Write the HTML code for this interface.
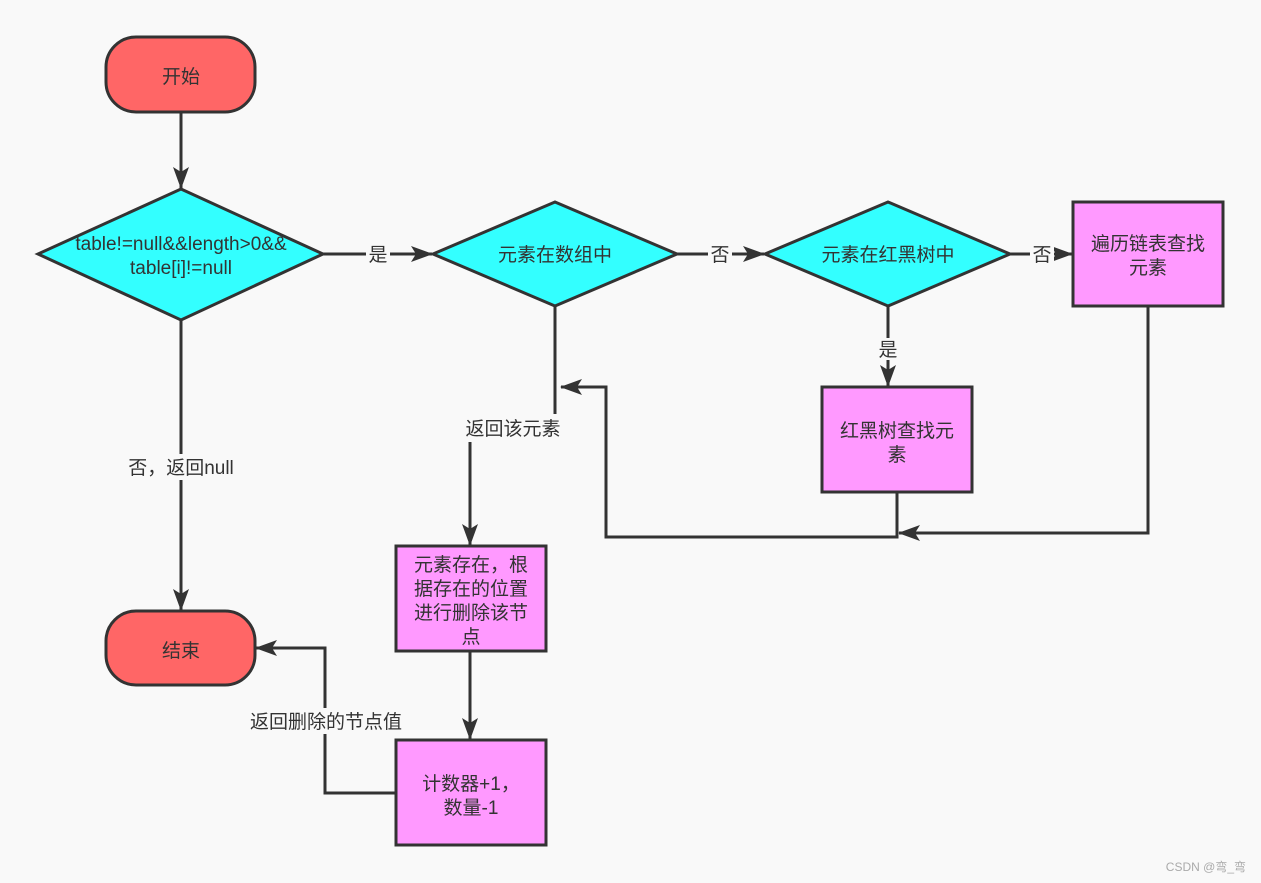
<!DOCTYPE html>
<html><head><meta charset="utf-8"><style>
html,body{margin:0;padding:0;background:#f9f9f9;}
svg{display:block;}
text{font-family:"Liberation Sans","Noto Sans CJK SC",sans-serif;font-size:19px;fill:#333;}
</style></head><body>
<svg width="1261" height="883" viewBox="0 0 1261 883" xmlns="http://www.w3.org/2000/svg">
<defs>
<marker id="a" markerWidth="22" markerHeight="16" refX="21" refY="8" orient="auto" markerUnits="userSpaceOnUse" viewBox="0 0 22 16">
<path d="M0,0 L22,8 L0,16 L5,8 Z" fill="#333"/></marker>
</defs>
<rect width="1261" height="883" fill="#f9f9f9"/>
<g stroke="#333" stroke-width="3" fill="none">
<path d="M181,112 V188" marker-end="url(#a)" />
<path d="M181,320 V610" marker-end="url(#a)"/>
<path d="M323,254 H432" marker-end="url(#a)"/>
<path d="M677,254 H764" marker-end="url(#a)"/>
<path d="M1010,254 H1072" marker-end="url(#a)"/>
<path d="M888,306 V386" marker-end="url(#a)"/>
<path d="M555,306 V418 H470 V545" marker-end="url(#a)"/>
<path d="M897,492 V537 H606 V387 H561" marker-end="url(#a)"/>
<path d="M1148,306 V533 H899" marker-end="url(#a)"/>
<path d="M470,651 V739" marker-end="url(#a)"/>
<path d="M396,793 H325 V648 H256" marker-end="url(#a)"/>
</g>
<g>
<rect x="116" y="454" width="130" height="26" fill="#f9f9f9"/>
<text x="181" y="474" text-anchor="middle">否，返回null</text>
<rect x="366" y="244" width="24" height="22" fill="#f9f9f9"/>
<text x="378" y="261" text-anchor="middle">是</text>
<rect x="708" y="244" width="24" height="22" fill="#f9f9f9"/>
<text x="720" y="261" text-anchor="middle">否</text>
<rect x="1030" y="244" width="24" height="22" fill="#f9f9f9"/>
<text x="1042" y="261" text-anchor="middle">否</text>
<rect x="876" y="338" width="24" height="22" fill="#f9f9f9"/>
<text x="888" y="356" text-anchor="middle">是</text>
<rect x="460" y="414" width="106" height="28" fill="#f9f9f9"/>
<text x="513" y="435" text-anchor="middle">返回该元素</text>
<rect x="244" y="708" width="164" height="26" fill="#f9f9f9"/>
<text x="326" y="728" text-anchor="middle">返回删除的节点值</text>
</g>
<g stroke="#333" stroke-width="3">
<rect x="106" y="37" width="149" height="75" rx="30" fill="#ff6666"/>
<rect x="106" y="611" width="149" height="74" rx="30" fill="#ff6666"/>
<polygon points="181,189 323,254 181,320 38,254" fill="#33ffff"/>
<polygon points="555,202 677,254 555,306 433,254" fill="#33ffff"/>
<polygon points="888,202 1010,254 888,306 765,254" fill="#33ffff"/>
<rect x="1073" y="202" width="150" height="104" fill="#ff99ff"/>
<rect x="822" y="387" width="150" height="105" fill="#ff99ff"/>
<rect x="396" y="546" width="150" height="105" fill="#ff99ff"/>
<rect x="396" y="740" width="150" height="105" fill="#ff99ff"/>
</g>
<g text-anchor="middle">
<text x="181" y="83">开始</text>
<text x="181" y="657">结束</text>
<text x="181" y="250">table!=null&amp;&amp;length&gt;0&amp;&amp;</text>
<text x="181" y="274">table[i]!=null</text>
<text x="555" y="261">元素在数组中</text>
<text x="888" y="261">元素在红黑树中</text>
<text x="1148" y="250">遍历链表查找</text>
<text x="1148" y="274">元素</text>
<text x="897" y="437">红黑树查找元</text>
<text x="897" y="461">素</text>
<text x="471" y="571">元素存在，根</text>
<text x="471" y="595">据存在的位置</text>
<text x="471" y="619">进行删除该节</text>
<text x="471" y="643">点</text>
<text x="471" y="790">计数器+1，</text>
<text x="471" y="814">数量-1</text>
</g>
<text x="1246" y="871" text-anchor="end" style="font-size:12px;fill:#aaa">CSDN @弯_弯</text>
</svg>
</body></html>
